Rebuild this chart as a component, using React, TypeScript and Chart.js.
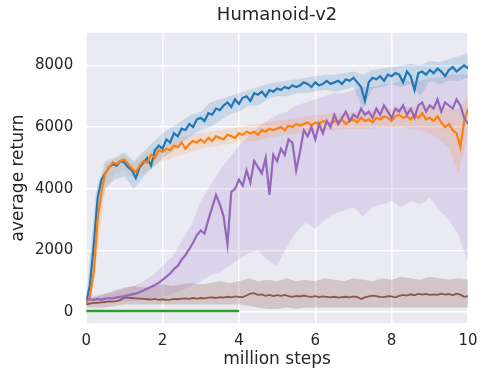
import React, { useEffect, useRef } from "react";
import { Chart, registerables } from "chart.js";

Chart.register(...registerables);

// x positions (million steps)
const steps = Array.from({ length: 101 }, (_, i) => i / 10);
const bandSteps = Array.from({ length: 41 }, (_, i) => i / 4);
const greenSteps = [0, 1, 2, 3, 4];

const xTicks = [0, 2, 4, 6, 8, 10];
const yTicks = [0, 2000, 4000, 6000, 8000];

const blue = [
  300, 900, 2200, 3700, 4300, 4500, 4700, 4800, 4750, 4900,
  4850, 4700, 4600, 4350, 4700, 4850, 5000, 4750, 5250, 5400,
  5300, 5600, 5500, 5800, 5700, 5950, 5900, 6100, 6000, 6250,
  6300, 6200, 6450, 6400, 6600, 6550, 6700, 6800, 6650, 6900,
  6750, 6950, 7000, 6850, 7100, 7050, 7150, 7000, 7200, 7150,
  7250, 7200, 7300, 7250, 7350, 7300, 7350, 7450, 7400, 7300,
  7450, 7350, 7400, 7500, 7400, 7450, 7500, 7400, 7550, 7500,
  7600, 7450, 7300, 6850, 7450, 7600, 7550, 7650, 7500, 7700,
  7650, 7750, 7700, 7450, 7800, 7650, 7200, 7750, 7800, 7700,
  7850, 7750, 7900, 7800, 7650, 7850, 7950, 7800, 7900, 8000,
  7900,
];

const orange = [
  300, 500, 1300, 3000, 3900, 4500, 4700, 4850, 4800, 4900,
  4950, 4800, 4650, 4550, 4750, 4900, 4850, 5100, 5000, 5250,
  5200, 5300, 5250, 5400, 5350, 5500, 5300, 5450, 5550, 5500,
  5600, 5500, 5650, 5550, 5700, 5650, 5600, 5750, 5700, 5650,
  5800, 5750, 5850, 5800, 5850, 5750, 5900, 5850, 5950, 5900,
  5950, 6000, 5900, 6050, 6000, 6100, 6050, 6100, 6150, 6050,
  6150, 6100, 6200, 6150, 6100, 6200, 6150, 6250, 6100, 6200,
  6250, 6150, 6300, 6200, 6250, 6150, 6300, 6250, 6350, 6300,
  6200, 6350, 6400, 6300, 6350, 6250, 6400, 6300, 6450, 6250,
  6300, 6200, 6350, 6150, 6000, 6100, 5900, 5800, 5350, 6200,
  6600,
];

const purple = [
  400, 420, 400, 430, 410, 440, 460, 450, 480, 500,
  520, 550, 580, 600, 650, 700, 760, 820, 880, 950,
  1050, 1150, 1250, 1400, 1500, 1700, 1850, 2050, 2250, 2500,
  2650, 2550, 3000, 3400, 3800, 3500, 3100, 2200, 3900, 4000,
  4300, 4100, 4600, 4200, 4900, 4700, 4500, 5000, 3800, 5100,
  4900, 5300, 5100, 5600, 5500, 4600, 5200, 5900, 5700, 6000,
  5600, 6100, 5800, 6200, 6000, 6400, 6100, 6300, 6500, 6200,
  6400, 6300, 6600, 6400, 6500, 6300, 6600, 6400, 6700, 6500,
  6300, 6600, 6500, 6700, 6400, 6600, 6300, 6700, 6800, 6500,
  6700, 6600, 6900, 6500, 6800, 6700, 6600, 6900, 6700, 6300,
  6100,
];

const brown = [
  250, 280, 300, 300, 320, 330, 350, 340, 360, 400,
  480, 470, 460, 450, 440, 430, 420, 410, 430, 400,
  420, 400, 410, 430, 420, 440, 450, 430, 460, 440,
  460, 450, 470, 480, 460, 490, 470, 500, 480, 510,
  500, 490, 540, 600, 620, 560, 580, 530, 560, 520,
  550, 530, 560, 520, 500, 530, 510, 540, 510, 500,
  520, 490, 510, 500, 480, 500, 470, 490, 500, 480,
  510, 490, 430, 480, 510, 540, 520, 500, 490, 520,
  510, 480, 530, 560, 540, 580, 550, 600, 570, 590,
  560, 580, 560, 600, 570, 590, 550, 600, 570, 500,
  520,
];

const green = [40, 40, 40, 40, 40];

const blueHi = [
  350, 3900, 4900, 5000, 5200, 4900, 5200, 5500, 5800, 6000,
  6200, 6400, 6500, 6800, 6900, 7000, 7100, 7200, 7300, 7400,
  7450, 7500, 7550, 7600, 7650, 7700, 7700, 7750, 7800, 7700,
  7850, 7900, 7950, 8000, 8050, 8000, 8150, 8100, 8200, 8300,
  8400,
];
const blueLo = [
  250, 2800, 4000, 4300, 4400, 4000, 4400, 4700, 5000, 5200,
  5500, 5700, 5900, 6000, 6200, 6400, 6500, 6700, 6700, 6900,
  7000, 7000, 7100, 7100, 7150, 7200, 7150, 7200, 7300, 6600,
  7250, 7300, 7400, 7300, 7400, 7000, 7500, 7400, 7500, 7500,
  7600,
];
const orangeHi = [
  350, 3000, 4800, 5000, 5100, 4800, 5100, 5300, 5400, 5500,
  5700, 5750, 5800, 5850, 5900, 5950, 6000, 6050, 6100, 6150,
  6200, 6250, 6300, 6350, 6400, 6400, 6450, 6450, 6500, 6500,
  6550, 6600, 6600, 6650, 6650, 6700, 6700, 6650, 6600, 6600,
  7000,
];
const orangeLo = [
  250, 1500, 4000, 4500, 4600, 4300, 4500, 4700, 4900, 5000,
  5100, 5200, 5300, 5350, 5400, 5450, 5500, 5550, 5550, 5650,
  5700, 5750, 5800, 5800, 5850, 5900, 5900, 5950, 5950, 5950,
  5950, 6000, 6000, 6000, 5950, 5900, 5800, 5600, 5300, 4500,
  5800,
];
const purpleHi = [
  500, 550, 600, 650, 750, 850, 1000, 1200, 1500, 1800,
  2300, 2800, 3600, 4100, 4600, 5000, 5400, 5700, 6000, 6200,
  6400, 6500, 6700, 6800, 6900, 7000, 7100, 7100, 7200, 7300,
  7300, 7400, 7400, 7500, 7500, 7500, 7600, 7600, 7700, 7700,
  7700,
];
const purpleLo = [
  300, 300, 320, 340, 350, 370, 400, 450, 500, 600,
  700, 850, 1000, 1200, 1300, 1500, 1700, 1900, 2000, 1700,
  1500, 2100, 2600, 2900, 2700, 3000, 3200, 3300, 3400, 3100,
  3400, 3500, 3600, 3400, 3600, 3500, 3700, 3300, 3000, 2500,
  1600,
];
const brownHi = [
  400, 500, 600, 700, 800, 850, 800, 850, 900, 850,
  900, 950, 900, 950, 1000, 950, 1000, 1100, 1000, 1050,
  1000, 1100, 1000, 1050, 1000, 1100, 1050, 1000, 1100, 1050,
  1000, 1100, 1050, 1150, 1100, 1050, 1150, 1100, 1050, 1100,
  1050,
];
const brownLo = [
  150, 150, 150, 200, 250, 250, 250, 250, 250, 250,
  250, 250, 250, 250, 250, 250, 250, 200, 150, 100,
  100, 150, 100, 150, 150, 150, 150, 150, 150, 150,
  150, 150, 150, 150, 150, 150, 150, 150, 150, 150,
  150,
];

const TITLE = "Humanoid-v2";
const TEXT = "#262626";
const FONT = "'DejaVu Sans', sans-serif";

export default function App() {
  const ref = useRef<HTMLCanvasElement>(null);

  useEffect(() => {
    document.body.style.margin = "0";
    const pts = (xs: number[], ys: number[]) => xs.map((x, i) => ({ x, y: ys[i] }));
    const line = (label: string, xs: number[], ys: number[], color: string, width: number) => ({
      label,
      data: pts(xs, ys),
      borderColor: color,
      borderWidth: width,
      pointRadius: 0,
      fill: false,
      tension: 0,
    });
    const bandPair = (label: string, xs: number[], hi: number[], lo: number[], fillColor: string) => [
      {
        label: label + " hi",
        data: pts(xs, hi),
        borderWidth: 0,
        borderColor: "rgba(0,0,0,0)",
        backgroundColor: fillColor,
        pointRadius: 0,
        fill: "+1",
        tension: 0,
      },
      {
        label: label + " lo",
        data: pts(xs, lo),
        borderWidth: 0,
        borderColor: "rgba(0,0,0,0)",
        pointRadius: 0,
        fill: false,
        tension: 0,
      },
    ];

    const bgPlugin = {
      id: "bg",
      beforeDraw(chart: any) {
        const { ctx, chartArea } = chart;
        ctx.save();
        ctx.fillStyle = "#EAEAF2";
        ctx.fillRect(chartArea.left, chartArea.top, chartArea.right - chartArea.left, chartArea.bottom - chartArea.top);
        ctx.restore();
      },
      afterDraw(chart: any) {
        const { ctx, chartArea } = chart;
        ctx.save();
        ctx.fillStyle = TEXT;
        ctx.font = "18px " + FONT;
        ctx.textAlign = "center";
        ctx.textBaseline = "middle";
        ctx.fillText(TITLE, (chartArea.left + chartArea.right) / 2, 15);
        ctx.restore();
      },
    };

    const chart = new Chart(ref.current as HTMLCanvasElement, {
      type: "line",
      data: {
        datasets: [
          line("purple", steps, purple, "#9467bd", 2.2),
          line("orange", steps, orange, "#ff7f0e", 2.2),
          line("blue", steps, blue, "#1f77b4", 2.2),
          line("brown", steps, brown, "#8c564b", 1.8),
          line("green", greenSteps, green, "#2ca02c", 2.5),
          ...bandPair("blue", bandSteps, blueHi, blueLo, "rgba(31,119,180,0.17)"),
          ...bandPair("orange", bandSteps, orangeHi, orangeLo, "rgba(255,127,14,0.15)"),
          ...bandPair("purple", bandSteps, purpleHi, purpleLo, "rgba(148,103,189,0.17)"),
          ...bandPair("brown", bandSteps, brownHi, brownLo, "rgba(140,86,75,0.25)"),
        ] as any,
      },
      options: {
        responsive: false,
        maintainAspectRatio: false,
        animation: false,
        layout: { padding: { left: 0, right: 0, top: 33, bottom: 0 } },
        plugins: {
          legend: { display: false },
          tooltip: { enabled: false },
          title: { display: false },
        },
        scales: {
          x: {
            type: "linear",
            min: 0,
            max: 10,
            afterBuildTicks: (s: any) => {
              s.ticks = xTicks.map((v) => ({ value: v }));
            },
            afterFit: (s: any) => {
              s.paddingRight = 15;
              s.paddingLeft = 0;
            },
            grid: { color: "#ffffff", lineWidth: 1.5, drawTicks: false },
            border: { display: false },
            ticks: {
              padding: 9,
              color: TEXT,
              font: { family: FONT, size: 15 },
              callback: (v: any) => String(v),
              maxRotation: 0,
            },
            title: {
              display: true,
              text: "million steps",
              color: TEXT,
              font: { family: FONT, size: 17, lineHeight: 1 },
              padding: { top: -8, bottom: 0 },
            },
          },
          y: {
            type: "linear",
            min: -350,
            max: 9050,
            afterBuildTicks: (s: any) => {
              s.ticks = yTicks.map((v) => ({ value: v }));
            },
            grid: { color: "#ffffff", lineWidth: 1.5, drawTicks: false },
            border: { display: false },
            ticks: {
              padding: 13,
              color: TEXT,
              font: { family: FONT, size: 15 },
              callback: (v: any) => String(v),
            },
            title: {
              display: true,
              text: "average return",
              color: TEXT,
              font: { family: FONT, size: 17, lineHeight: 1 },
              padding: { top: 10, bottom: -5 },
            },
          },
        },
      } as any,
      plugins: [bgPlugin],
    });
    return () => chart.destroy();
  }, []);

  return (
    <div style={{ position: "absolute", left: 0, top: 0, width: 483, height: 368 }}>
      <canvas ref={ref} width={483} height={368} style={{ width: 483, height: 368 }} />
    </div>
  );
}
